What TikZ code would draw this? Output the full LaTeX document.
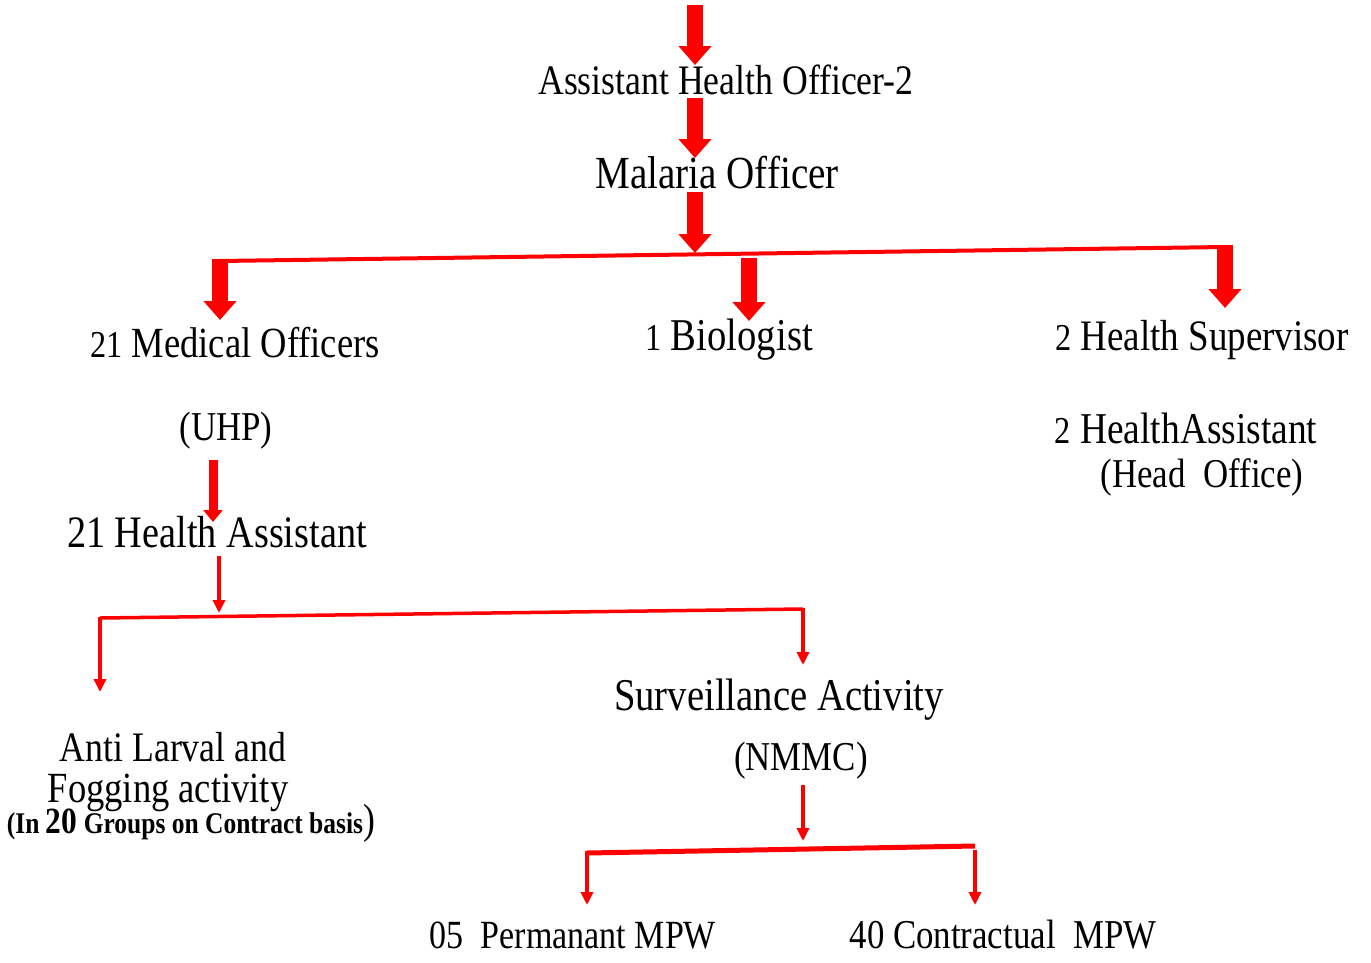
\documentclass[tikz,border=0pt]{standalone}
\usepackage{fontspec}
\setmainfont{Liberation Serif}[FakeStretch=0.85]
\usetikzlibrary{arrows.meta,positioning}

\begin{document}
\begin{tikzpicture}[x=1pt,y=-1pt,
  lbl/.style={anchor=base,inner sep=0pt,font=\fontsize{#1}{#1}\selectfont},lbl/.default=44,
  fat/.style={draw=red,line width=16pt,-{Triangle[width=32pt,length=19pt]}},
  fatsmall/.style={draw=red,line width=9pt,-{Triangle[width=19pt,length=12pt]}},
  thin/.style={draw=red,line width=3.5pt,-{Triangle[width=12pt,length=13pt]}},
  bus/.style={draw=red,line width=4pt}]
\useasboundingbox (0,0) rectangle (1371,962);
% text of the chart
\node[lbl=42] (aho) at (726,94) {Assistant Health Officer-2};
\node[lbl=46] (mo) at (717,188) {Malaria Officer};
\node[lbl=43] (medoff) at (235,357) {{\fontsize{38}{38}\selectfont 21} Medical Officers};
\node[lbl=41] (uhp) at (226,440) {(UHP)};
\node[lbl=45] (ha21) at (217,547) {21 Health Assistant};
\node[lbl=45.5] (bio) at (729,350) {{\fontsize{38}{38}\selectfont 1} Biologist};
\node[lbl=43.5] (hsup) at (1202,350) {{\fontsize{38}{38}\selectfont 2} Health Supervisor};
\node[lbl=44] (ha2) at (1186,443) {{\fontsize{38}{38}\selectfont 2} HealthAssistant};
\node[lbl=41] (head) at (1202,487) {(Head\ \ Office)};
\node[lbl=45.5] (surv) at (779,710) {Surveillance Activity};
\node[lbl=41] (nmmc) at (801,770) {(NMMC)};
\node[lbl=42] (anti) at (173,761) {Anti Larval and};
\node[lbl=43] (fog) at (168,802) {Fogging activity};
\node[lbl=30] (groups) at (191,833) {\bfseries (In {\fontsize{37}{37}\selectfont 20} Groups on Contract basis{\fontsize{42}{42}\mdseries\selectfont )}};
\node[lbl=40] (perm) at (573,948) {05\ \ Permanant MPW};
\node[lbl=41] (contr) at (1003,948) {40 Contractual\ \ MPW};
% arrow ends and bus corners
\coordinate (t0) at (695,5);   \coordinate (t1) at (695,65);
\coordinate (t2) at (695,98);  \coordinate (t3) at (695,158);
\coordinate (t4) at (695,192); \coordinate (t5) at (695,253);
\coordinate (bl) at (220,261); \coordinate (br) at (1225,247);
\coordinate (bm) at (749,258);
\coordinate (u0) at (213,460); \coordinate (u1) at (213,522);
\coordinate (h0) at (219,556); \coordinate (h1) at (219,613);
\coordinate (cl) at (100,618); \coordinate (cr) at (803,609);
\coordinate (n0) at (803,785); \coordinate (n1) at (803,841);
\coordinate (dl) at (587,853); \coordinate (dr) at (975,846);
% connectors
\draw[fat] (t0)--(t1);\draw[fat] (t2)--(t3);\draw[fat] (t4)--(t5);
\draw[bus] (bl)--(br);
\draw[fat] ([yshift=2pt]bl)--([yshift=-59pt]bl);
\draw[fat] (bm)--([yshift=-63pt]bm);
\draw[fat] ([yshift=2pt]br)--([yshift=-61pt]br);
\draw[fatsmall] (u0)--(u1);
\draw[thin] (h0)--(h1);
\draw[bus,line width=3.5pt] (cl)--(cr);
\draw[thin] ([yshift=1pt]cl)--([yshift=-74pt]cl);
\draw[thin] ([yshift=1pt]cr)--([yshift=-56pt]cr);
\draw[thin] (n0)--(n1);
\draw[bus,line width=5pt] (dl)--(dr);
\draw[thin] ([yshift=2pt]dl)--([yshift=-52pt]dl);
\draw[thin] ([yshift=-4pt]dr)--([yshift=-59pt]dr);
\end{tikzpicture}
\end{document}
